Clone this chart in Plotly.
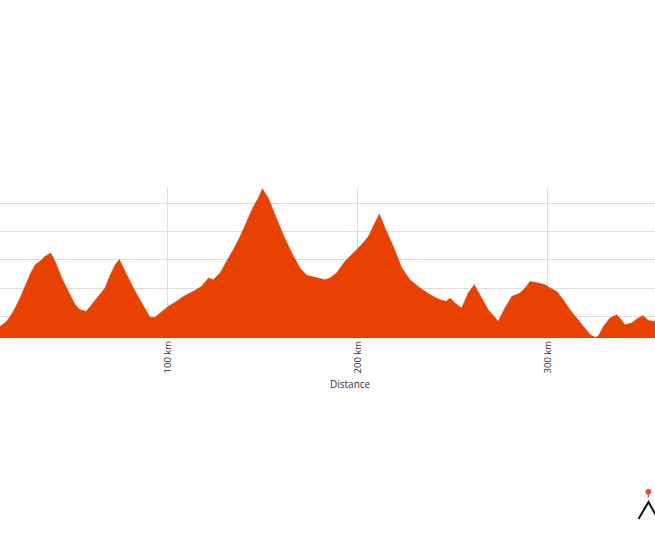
import plotly.graph_objects as go

# Elevation profile (distance in km, elevation in m)
distance_km = [11.7, 15.3, 18.7, 22.3, 24.9, 27.5, 30.2, 32.8, 35.4, 38.4, 40.7, 44.2, 47.7, 51.2,
               53.8, 57.0, 60.0, 63.5, 67.0, 69.6, 72.3, 74.5, 77.5, 81.9, 86.3, 90.7, 93.3, 96.8,
               100.3, 104.7, 108.2, 113.5, 117.9, 121.4, 124.0, 127.5, 131.1, 134.5, 138.1, 141.6,
               145.1, 147.7, 149.8, 152.9, 156.5, 160.8, 165.3, 169.6, 173.2, 177.5, 180.2, 182.8,
               185.4, 188.9, 193.3, 197.7, 202.1, 205.6, 209.1, 211.4, 214.4, 218.7, 223.2, 227.5,
               232.8, 238.1, 243.3, 246.8, 248.6, 251.2, 254.7, 258.2, 261.4, 264.4, 268.7, 274.0,
               277.5, 281.1, 285.4, 288.1, 290.7, 295.1, 298.6, 301.2, 304.7, 308.2, 311.7, 315.3,
               318.7, 322.3, 324.9, 326.6, 329.3, 332.8, 336.3, 338.0, 340.7, 344.2, 347.7, 350.3,
               353.0, 356.5]
elevation_m = [129, 165, 235, 330, 412, 495, 565, 589, 624, 648, 589, 471, 377, 283,
               247, 235, 283, 341, 401, 488, 565, 601, 518, 401, 295, 193, 193, 235,
               271, 306, 341, 377, 412, 471, 459, 507, 589, 671, 765, 871,
               977, 1037, 1102, 1037, 919, 777, 648, 542, 490, 476, 464, 459,
               471, 507, 589, 648, 707, 765, 860, 924, 825, 695, 542, 459,
               401, 353, 318, 306, 330, 295, 259, 365, 424, 353, 247, 165,
               259, 341, 365, 401, 447, 436, 424, 401, 377, 318, 247, 189,
               129, 71, 52, 59, 129, 189, 212, 189, 141, 153, 189, 205,
               170, 165]

x_tickvals = [100, 200, 300]
x_ticktext = ["100 km", "200 km", "300 km"]
y_gridvals = [200, 400, 600, 800, 1000, 1106]

W, H = 655, 545
ML, MR, MT, MB = 0, 0, 188, 207
PW, PH = W - ML - MR, H - MT - MB


def px(xp):
    return (xp - ML) / PW


def py(yp):
    return (H - MB - yp) / PH


fig = go.Figure()
fig.add_trace(go.Scatter(
    x=distance_km, y=elevation_m, mode="lines",
    line=dict(color="#e84100", width=0.5),
    fill="tozeroy", fillcolor="#e84100",
    hoverinfo="skip", showlegend=False,
))

# Logo (decorative)
fig.add_shape(type="path",
              path=f"M {px(638.5)},{py(519)} L {px(648.5)},{py(502)} L {px(658)},{py(519)}",
              xref="paper", yref="paper", line=dict(color="#111111", width=2))
fig.add_shape(type="circle", xref="paper", yref="paper",
              x0=px(645.5), x1=px(651.1), y0=py(494.5), y1=py(488.9),
              fillcolor="#e84a2a", line=dict(color="#e84a2a", width=0))
fig.add_shape(type="line", xref="paper", yref="paper",
              x0=px(648.3), x1=px(648.3), y0=py(494), y1=py(497.5),
              line=dict(color="#e84a2a", width=1.2))

fig.add_annotation(text="Distance", xref="paper", yref="paper",
                   x=px(350.5), y=py(383.5), xanchor="center", yanchor="middle",
                   showarrow=False,
                   font=dict(size=10, color="#333333", family="Open Sans"))

fig.update_layout(
    width=W, height=H,
    margin=dict(l=ML, r=MR, t=MT, b=MB, pad=0),
    paper_bgcolor="white", plot_bgcolor="white",
    font=dict(family="Open Sans", size=9, color="#333333"),
    xaxis=dict(range=[11.7, 356.5], tickvals=x_tickvals, ticktext=x_ticktext,
               tickangle=-90, showgrid=True, gridcolor="#dddddd", gridwidth=1,
               zeroline=False, showline=False, ticks="", ticklen=0,
               tickfont=dict(size=9.5, color="#333333")),
    yaxis=dict(range=[47, 1107], tickvals=y_gridvals, showticklabels=False,
               showgrid=True, gridcolor="#dddddd", gridwidth=1,
               zeroline=False, showline=False, ticks=""),
)

fig.write_html("out.html",
               config={"displayModeBar": False},
               post_script="document.body.style.margin='0px';document.body.style.padding='0px';")
